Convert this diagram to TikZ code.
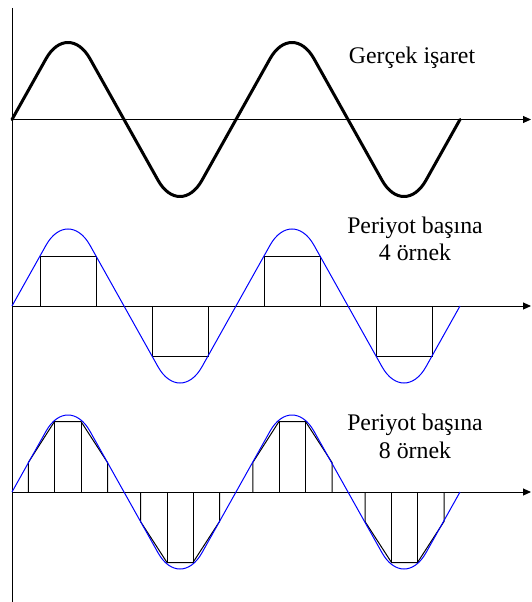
\documentclass[tikz,border=0pt]{standalone}
\usepackage{fontspec}
\setmainfont{Liberation Serif}
\usetikzlibrary{arrows.meta}
\begin{document}
\begin{tikzpicture}[x=1pt,y=-1pt,
  axis/.style={line width=1pt,-{Triangle[length=8pt,width=7pt]}},
  wave/.style={rounded corners=45pt},
  realsig/.style={wave,line width=3pt,line join=round,line cap=round},
  bluesig/.style={wave,blue,line width=1pt},
  sample/.style={line width=1pt},
  lbl/.style={font=\fontsize{23.8}{28}\selectfont,inner sep=0pt,anchor=base}]
\useasboundingbox (0,0) rectangle (532,602);
% axes
\coordinate (vtop) at (12,8);
\coordinate (vbot) at (12,602);
\draw[line width=1pt] (vtop) -- (vbot);
\foreach \yy/\nm in {119.5/a,306/b,492/c}{
  \coordinate (o\nm) at (12,\yy);
  \coordinate (e\nm) at (531,\yy);
  \draw[axis] (o\nm) -- (e\nm);
}
% real signal
\draw[realsig] (12,119.5) -- (68,19.5) -- (180,219.5) -- (292,19.5) -- (404,219.5) -- (460,119.5);
% 4 samples per period
\foreach \k in {0,224}{
  \draw[sample] (40+\k,306) -- (40+\k,256) -- (96+\k,256) -- (96+\k,306);
  \draw[sample] (152+\k,306) -- (152+\k,356) -- (208+\k,356) -- (208+\k,306);
}
\draw[bluesig] (12,306) -- (68,206) -- (180,406) -- (292,206) -- (404,406) -- (460,306);
% 8 samples per period
\foreach \k in {0,224.5}{
  \draw[sample] (28.3+\k,492) -- (28.3+\k,462.5) -- (54.5+\k,421.5) -- (81+\k,421.5) -- (107.5+\k,462.5) -- (107.5+\k,492);
  \draw[sample] (54.5+\k,421.5) -- (54.5+\k,492);
  \draw[sample] (81+\k,421.5) -- (81+\k,492);
  \draw[sample] (140.5+\k,492) -- (140.5+\k,521.5) -- (167+\k,562.5) -- (193+\k,562.5) -- (219.5+\k,521.5) -- (219.5+\k,492);
  \draw[sample] (167+\k,562.5) -- (167+\k,492);
  \draw[sample] (193+\k,562.5) -- (193+\k,492);
}
\draw[bluesig] (12,492) -- (68,392) -- (180,592) -- (292,392) -- (404,592) -- (460,492);
% labels
\node[lbl] (t1) at (412,63.3) {Gerçek işaret};
\node[lbl] (t2a) at (415,233) {Periyot başına};
\node[lbl] (t2b) at (415,260.7) {4 örnek};
\node[lbl] (t3a) at (415,430.7) {Periyot başına};
\node[lbl] (t3b) at (415,458.3) {8 örnek};
\end{tikzpicture}
\end{document}
